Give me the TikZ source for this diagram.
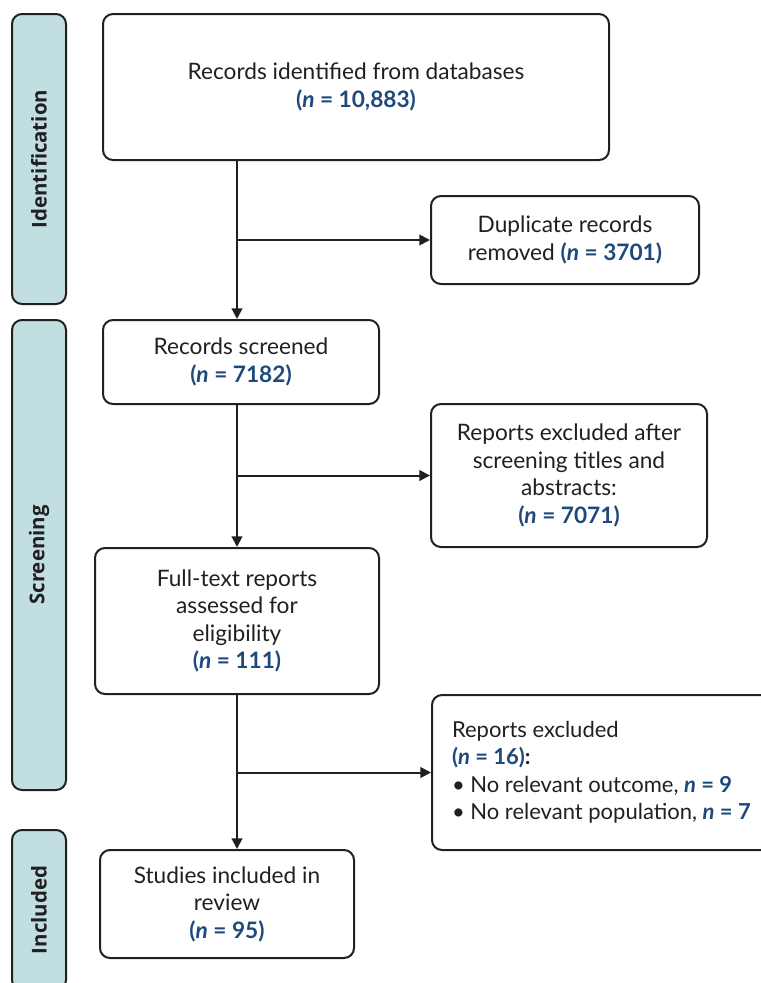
\documentclass[tikz,border=0pt]{standalone}
\usepackage{fontspec}
\setmainfont{Lato}
\newfontfamily\barfont{Open Sans}
\usetikzlibrary{arrows.meta}
\definecolor{barfill}{RGB}{193,223,225}
\definecolor{nblue}{RGB}{31,73,125}
\definecolor{ink}{RGB}{35,31,32}
\newcommand{\nval}[1]{\textcolor{nblue}{\textbf{(\textit{n} = #1)}}}
\newcommand{\nnum}[1]{\textcolor{nblue}{\textbf{\textit{n} = #1}}}

\begin{document}
\begin{tikzpicture}[x=0.75pt,y=-0.75pt,
  box/.style={draw=ink,line width=1.5pt,rounded corners=7.5pt,align=center,
    text=ink,inner sep=0pt,font=\fontsize{17}{20.6}\selectfont},
  bar/.style={draw=ink,fill=barfill,line width=1.5pt,rounded corners=7.5pt,
    rotate=90,minimum height=40.5pt,text=ink,font=\barfont\bfseries\fontsize{15.3}{18}\selectfont},
  arr/.style={draw=ink,line width=1.5pt,-{Triangle[length=8pt,width=8pt]}}]
  \useasboundingbox (0,0) rectangle (761,983);
  \node[bar,minimum width=217.5pt] (idbar) at (39,159) {Identification};
  \node[bar,minimum width=352.5pt] (scbar) at (39,555) {Screening};
  \node[bar,minimum width=120pt] (inbar) at (39,910) {Included};
  \coordinate (tr) at (237,0);
  \node[box,minimum width=379.5pt,minimum height=109.5pt] (ident) at (356,87)
    {Records identified from databases\\\nval{10,883}};
  \node[box,minimum width=201pt,minimum height=66pt] (dupl) at (565,240)
    {Duplicate records\\removed \nval{3701}};
  \node[box,minimum width=207pt,minimum height=63pt] (scrn) at (241,362)
    {Records screened\\\nval{7182}};
  \node[box,minimum width=207pt,minimum height=107.25pt] (exclA) at (569,475.5)
    {Reports excluded after\\screening titles and\\abstracts:\\\nval{7071}};
  \node[box,minimum width=213pt,minimum height=109.5pt] (full) at (237,621)
    {Full-text reports\\assessed for\\eligibility\\\nval{111}};
  \node[box,minimum height=116.25pt,align=left,inner xsep=15pt,anchor=west,
    font=\fontsize{16.5}{20.6}\selectfont] (exclB) at (431,772.5)
    {Reports excluded\\\nval{16}\textbf{:}\\
     \textbullet{} No relevant outcome, \nnum{9}\\
     \textbullet{} No relevant population, \nnum{7}};
  \node[box,minimum width=190.5pt,minimum height=81pt] (incl) at (227,904)
    {Studies included in\\review\\\nval{95}};
  \draw[arr] (ident.south -| tr) -- (scrn.north -| tr);
  \draw[arr] (dupl.west -| tr) -- (dupl.west);
  \draw[arr] (scrn.south -| tr) -- (full.north -| tr);
  \draw[arr] (exclA.west -| tr) -- (exclA.west);
  \draw[arr] (full.south -| tr) -- (incl.north -| tr);
  \draw[arr] (exclB.west -| tr) -- (exclB.west);
\end{tikzpicture}
\end{document}
